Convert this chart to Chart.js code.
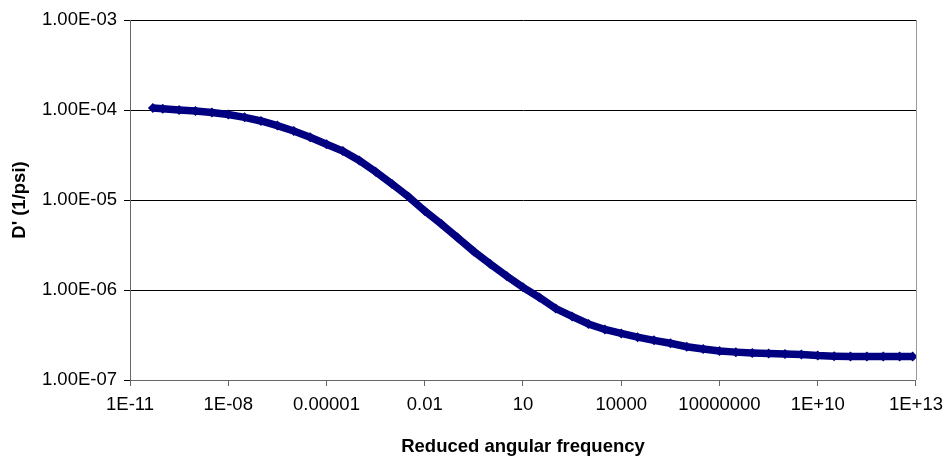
<!DOCTYPE html>
<html>
<head>
<meta charset="utf-8">
<script src="https://cdn.jsdelivr.net/npm/chart.js@4/dist/chart.umd.min.js"></script>
<style>
  body { margin: 0; background: #fff; }
  #wrap { width: 951px; height: 468px; }
</style>
</head>
<body>
<div id="wrap"><canvas id="chart" width="951" height="468"></canvas></div>
<script>
// Данные (шаг пол-декады по частоте)
const frequency = [
  5.0e-11, 1e-10, 3.16e-10, 1e-9, 3.16e-9, 1e-8, 3.16e-8, 1e-7, 3.16e-7, 1e-6,
  3.16e-6, 1e-5, 3.16e-5, 1e-4, 3.16e-4, 1e-3, 3.16e-3, 1e-2, 3.16e-2, 1e-1,
  3.16e-1, 1, 3.16, 10, 31.6, 100, 316, 1e3, 3.16e3, 1e4,
  3.16e4, 1e5, 3.16e5, 1e6, 3.16e6, 1e7, 3.16e7, 1e8, 3.16e8, 1e9,
  3.16e9, 1e10, 3.16e10, 1e11, 3.16e11, 1e12, 3.16e12, 7.94e12
];
const compliance = [
  1.05e-4, 1.03e-4, 1.00e-4, 9.77e-5, 9.39e-5, 8.91e-5, 8.29e-5, 7.55e-5, 6.71e-5, 5.85e-5,
  4.98e-5, 4.16e-5, 3.50e-5, 2.75e-5, 2.06e-5, 1.51e-5, 1.09e-5, 7.55e-6, 5.44e-6, 3.83e-6,
  2.68e-6, 1.95e-6, 1.43e-6, 1.07e-6, 8.26e-7, 6.22e-7, 5.08e-7, 4.19e-7, 3.64e-7, 3.29e-7,
  2.99e-7, 2.76e-7, 2.56e-7, 2.34e-7, 2.21e-7, 2.10e-7, 2.04e-7, 2.00e-7, 1.97e-7, 1.94e-7,
  1.92e-7, 1.87e-7, 1.84e-7, 1.82e-7, 1.82e-7, 1.82e-7, 1.82e-7, 1.82e-7
];

const xTickValues = [1e-11, 1e-8, 1e-5, 1e-2, 10, 1e4, 1e7, 1e10, 1e13];
const xTickLabels = ['1E-11', '1E-08', '0.00001', '0.01', '10', '10000', '10000000', '1E+10', '1E+13'];
const yTickValues = [1e-7, 1e-6, 1e-5, 1e-4, 1e-3];
const yTickLabels = ['1.00E-07', '1.00E-06', '1.00E-05', '1.00E-04', '1.00E-03'];

const FONT = "'Liberation Sans', Arial, sans-serif";

// Правая рамка области построения
const frameRight = {
  id: 'frameRight',
  afterDraw(chart) {
    const { ctx, chartArea } = chart;
    ctx.save();
    ctx.strokeStyle = '#999999';
    ctx.lineWidth = 1;
    ctx.beginPath();
    ctx.moveTo(chartArea.right + 0.5, chartArea.top);
    ctx.lineTo(chartArea.right + 0.5, chartArea.bottom);
    ctx.stroke();
    ctx.restore();
  }
};

const points = frequency.map((f, i) => ({ x: f, y: compliance[i] }));

new Chart(document.getElementById('chart'), {
  type: 'scatter',
  data: {
    datasets: [{
      data: points,
      showLine: true,
      borderColor: '#000080',
      borderWidth: 7.5,
      tension: 0,
      pointStyle: 'rectRot',
      pointRadius: 5,
      pointBackgroundColor: '#000080',
      pointBorderColor: '#000080',
      pointBorderWidth: 0
    }]
  },
  options: {
    responsive: false,
    animation: false,
    layout: { padding: { left: 0, top: 20, right: 31, bottom: 0 } },
    plugins: {
      legend: { display: false },
      tooltip: { enabled: false }
    },
    scales: {
      x: {
        type: 'logarithmic',
        min: 1e-11,
        max: 1e13,
        afterBuildTicks: scale => { scale.ticks = xTickValues.map(v => ({ value: v })); },
        afterFit: scale => { scale.height = 88; },
        ticks: {
          autoSkip: false,
          maxRotation: 0,
          padding: 8,
          color: '#000',
          font: { family: FONT, size: 18.5 },
          callback: (value, index) => xTickLabels[index]
        },
        grid: { drawOnChartArea: false, drawTicks: true, tickLength: 6, color: '#666666' },
        border: { display: true, color: '#666666', width: 1 },
        title: {
          display: true,
          text: 'Reduced angular frequency',
          color: '#000',
          font: { family: FONT, size: 18.5, weight: 'bold' },
          padding: { top: 0, bottom: 10 }
        }
      },
      y: {
        type: 'logarithmic',
        min: 1e-7,
        max: 1e-3,
        afterBuildTicks: scale => { scale.ticks = yTickValues.map(v => ({ value: v })); },
        afterFit: scale => { scale.width = 130; },
        ticks: {
          autoSkip: false,
          padding: 7,
          color: '#000',
          font: { family: FONT, size: 18.5 },
          callback: (value, index) => yTickLabels[index]
        },
        grid: { color: '#000000', lineWidth: 1, drawTicks: true, tickLength: 6 },
        border: { display: true, color: '#666666', width: 1 },
        title: {
          display: true,
          text: "D' (1/psi)",
          color: '#000',
          font: { family: FONT, size: 18.5, weight: 'bold' },
          padding: { top: 9, bottom: 0 }
        }
      }
    }
  },
  plugins: [frameRight]
});
</script>
</body>
</html>
